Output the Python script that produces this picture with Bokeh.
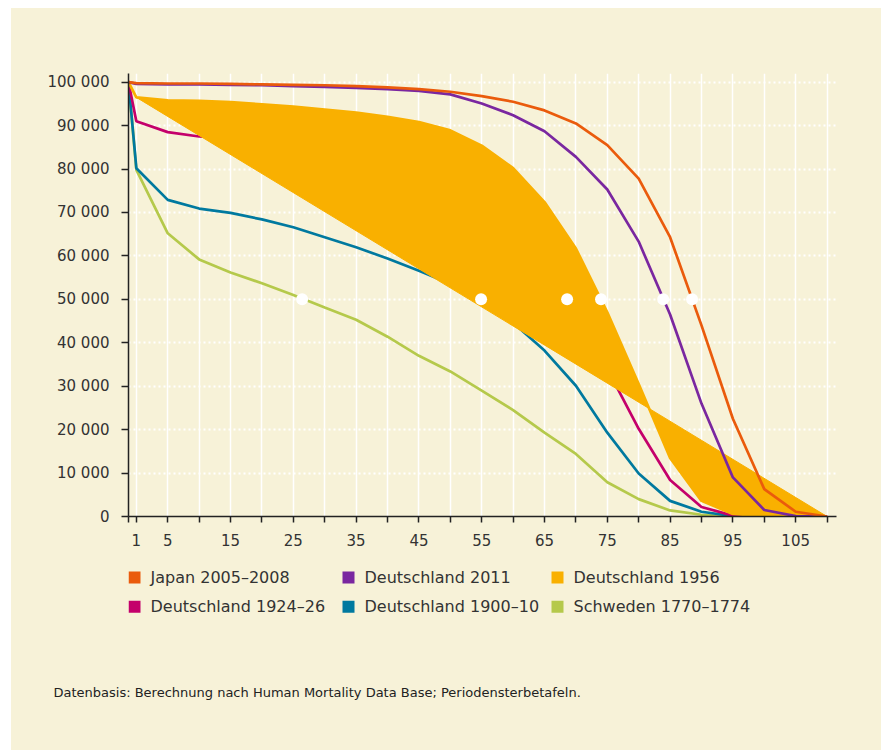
from bokeh.plotting import figure
from bokeh.models import Range1d, FixedTicker, Title
from bokeh.layouts import column
from bokeh.embed import file_html
from bokeh.resources import INLINE
from bokeh.core.properties import value

# ---------------- data ----------------
ages = [0, 1, 5, 10, 15, 20, 25, 30, 35, 40, 45, 50, 55, 60, 65, 70, 75, 80, 85, 90, 95, 100, 105, 110]

japan_2005_2008 = [100000, 99800, 99700, 99700, 99600, 99500, 99400, 99300, 99100, 98800, 98400, 97800,
                   96800, 95500, 93500, 90500, 85500, 77800, 64300, 44000, 22500, 6300, 1100, 0]
de_2011 = [100000, 99600, 99500, 99500, 99400, 99300, 99100, 98900, 98700, 98400, 98000, 97200,
           95100, 92400, 88700, 82800, 75300, 63300, 46500, 26000, 9000, 1500, 100, 0]
de_1956 = [100000, 96500, 95800, 95700, 95400, 94900, 94400, 93700, 93000, 92000, 90800, 88900,
           85400, 80200, 72400, 61700, 47000, 30500, 13500, 3600, 600, 50, 0, 0]
de_1924_26 = [100000, 91000, 88500, 87500, 87000, 86000, 84800, 83400, 81800, 79800, 77300, 73900,
              69300, 63500, 57000, 48500, 34000, 20200, 8400, 2200, 200, 0, 0, 0]
de_1900_10 = [100000, 80200, 72900, 70900, 69900, 68400, 66600, 64300, 62000, 59400, 56600, 53600,
              50200, 44600, 38200, 30100, 19300, 9900, 3600, 1100, 100, 0, 0, 0]
se_1770_1774 = [100000, 79800, 65200, 59200, 56200, 53700, 51000, 48100, 45300, 41400, 37000, 33400,
                29000, 24500, 19300, 14400, 7900, 4000, 1400, 400, 0, 0, 0, 0]

# median ages (survivors = 50 000), marked with white dots
median_ages = [88.5, 83.9, 74.0, 68.6, 54.9, 26.4]
median_level = 50000

series_names = ["Japan 2005–2008", "Deutschland 2011", "Deutschland 1956",
                "Deutschland 1924–26", "Deutschland 1900–10", "Schweden 1770–1774"]
series_colors = ["#EA5B0C", "#7A27A0", "#F9B000", "#C4006B", "#00799F", "#B5C94B"]

x_label_ages = [1, 5, 15, 25, 35, 45, 55, 65, 75, 85, 95, 105]
y_ticks = list(range(0, 100001, 10000))

footer = "Datenbasis: Berechnung nach Human Mortality Data Base; Periodensterbetafeln."

BG = "#F7F2D8"
FONT = "DejaVu Sans"


# x axis scale: 0 and 1 are close together, after that 5-year steps
def slot(a):
    if a <= 1:
        return (a - 1) * 0.25
    if a < 5:
        return (a - 1) / 4.0
    return a / 5.0


xs = [slot(a) for a in ages]

W = 870
p = figure(width=W, height=550, title=None,
           x_range=Range1d(-0.25, 22.3), y_range=Range1d(0, 102000),
           output_backend="svg", toolbar_location=None,
           min_border_left=117, min_border_right=45, min_border_top=65, min_border_bottom=42,
           background_fill_color=BG, border_fill_color=BG, outline_line_color=None)

# grids
p.xgrid.ticker = FixedTicker(ticks=[slot(a) for a in ages[1:]])
p.xgrid.grid_line_color = "white"
p.xgrid.grid_line_width = 1.5
p.ygrid.ticker = FixedTicker(ticks=y_ticks[1:])
p.ygrid.grid_line_color = "white"
p.ygrid.grid_line_width = 2
p.ygrid.grid_line_dash = "2 3"

# axes
p.xaxis.ticker = FixedTicker(ticks=xs)
p.xaxis.major_label_overrides = {slot(a): (str(a) if a in x_label_ages else "") for a in ages}
p.yaxis.ticker = FixedTicker(ticks=y_ticks)
p.yaxis.major_label_overrides = {v: f"{v:,}".replace(",", " ") for v in y_ticks}
for ax in (p.xaxis, p.yaxis):
    ax.axis_line_color = "#222222"
    ax.axis_line_width = 1.5
    ax.major_tick_line_color = "#222222"
    ax.major_tick_line_width = 1.5
    ax.major_tick_in = 0
    ax.minor_tick_line_color = None
    ax.major_label_text_font = FONT
    ax.major_label_text_font_size = "15px"
    ax.major_label_text_color = "#333333"
p.xaxis.major_tick_out = 6
p.xaxis.major_label_standoff = 11
p.yaxis.major_tick_out = 7
p.yaxis.major_label_standoff = 12

LW = 2.7
# lines under the 1956 area
p.line(xs, se_1770_1774, line_color=series_colors[5], line_width=LW)
p.line(xs, de_1900_10, line_color=series_colors[4], line_width=LW)
p.line(xs, de_1924_26, line_color=series_colors[3], line_width=LW)
# 1956 area (closed polygon from age 1)
p.patch(xs[1:], de_1956[1:], fill_color=series_colors[2], line_color=series_colors[2], line_width=1)
p.line(xs, de_1956, line_color=series_colors[2], line_width=LW)
# lines above
p.line(xs, de_2011, line_color=series_colors[1], line_width=LW)
p.line(xs, japan_2005_2008, line_color=series_colors[0], line_width=LW)

# median dots
p.scatter([slot(a) for a in median_ages], [median_level] * len(median_ages),
          size=12, fill_color="white", line_color=None)

# ---------------- legend panel (page-pixel coordinates) + footer ----------------
# frame of this panel spans page x 128..836 and page y 558..675.5
lf = figure(width=W, height=192, title=None,
            x_range=Range1d(128, 836), y_range=Range1d(675.5, 558),
            output_backend="svg", toolbar_location=None,
            min_border_left=117, min_border_right=45, min_border_top=0, min_border_bottom=74,
            x_axis_location=None, y_axis_location=None,
            background_fill_color=None, border_fill_color=BG, outline_line_color=None)
lf.grid.visible = False

col_left = [128, 342, 551]
row_y = [577, 606]
sq_x, sq_y, tx, ty = [], [], [], []
for i, name in enumerate(series_names):
    r, c = divmod(i, 3)
    sq_x.append(col_left[c] + 6)
    sq_y.append(row_y[r])
    tx.append(col_left[c] + 22)
    ty.append(row_y[r])

lf.rect(x=sq_x, y=sq_y, width=12, height=12, fill_color=series_colors, line_color=None)
lf.text(x=tx, y=ty, text=series_names, text_font=value(FONT), text_font_size="16px",
        text_color="#333333", text_baseline="middle", text_align="left")

lf.add_layout(Title(text=footer, align="left", offset=53 - 128, standoff=14, vertical_align="middle",
                    text_font=FONT, text_font_size="13px", text_font_style="normal",
                    text_color="#222222"), "below")

layout = column(p, lf, spacing=0, margin=(8, 0, 0, 11), styles={"background-color": BG})
open("out.html", "w").write(file_html(layout, INLINE))
